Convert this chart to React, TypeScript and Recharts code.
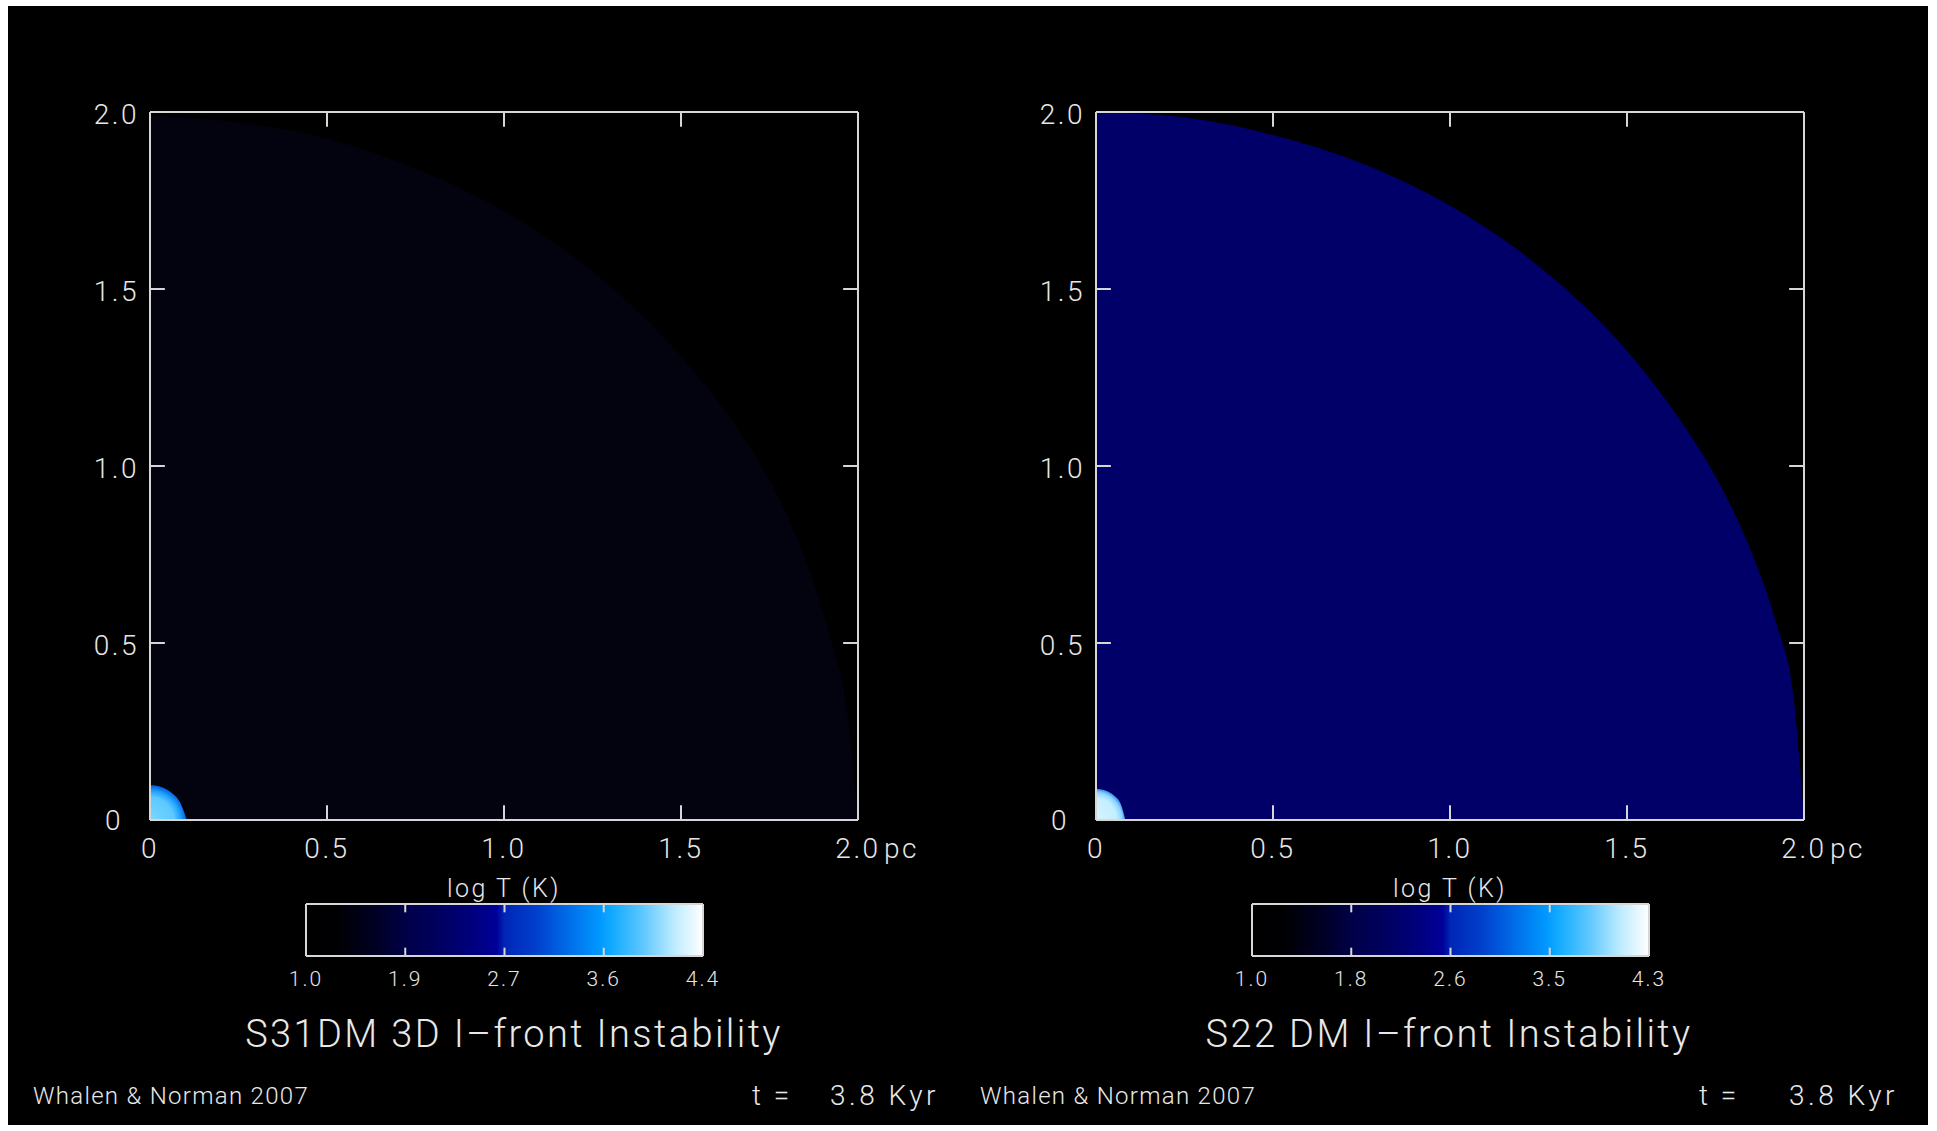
import { Area, AreaChart, ReferenceLine, XAxis, YAxis } from 'recharts';

// I-front panels: positions in pc, temperature colour scale in log T (K)
const axisTicks = [0, 0.5, 1, 1.5, 2];
const innerTicks = [0.5, 1, 1.5];

// outer boundary of the neutral shell, y (pc) at each x (pc)
const frontX = [0, 0.25, 0.5, 0.75, 1.0, 1.25, 1.5, 1.65, 1.75, 1.85, 1.92, 1.97, 2.0];
const frontLeftY = [1.99, 1.97, 1.925, 1.84, 1.72, 1.55, 1.31, 1.12, 0.96, 0.74, 0.52, 0.3, 0.0];
const frontRightY = [2.0, 1.985, 1.935, 1.855, 1.735, 1.565, 1.325, 1.13, 0.97, 0.76, 0.56, 0.35, 0.0];

// hot ionized core around the source
const coreLeftX = [0, 0.03, 0.06, 0.085, 0.104];
const coreLeftY = [0.099, 0.094, 0.078, 0.05, 0];
const coreRightX = [0, 0.03, 0.05, 0.07, 0.083];
const coreRightY = [0.088, 0.082, 0.07, 0.045, 0];

const cbTicksLeft = [1.0, 1.85, 2.7, 3.55, 4.4];
const cbLabelsLeft = ['1.0', '1.9', '2.7', '3.6', '4.4'];
const cbTicksRight = [1.0, 1.825, 2.65, 3.475, 4.3];
const cbLabelsRight = ['1.0', '1.8', '2.6', '3.5', '4.3'];

const titleLeft = 'S31DM 3D I\u2013front Instability';
const titleRight = 'S22 DM I\u2013front Instability';
const credit = 'Whalen & Norman 2007';
const timeLabel = '3.8 Kyr';

const FONT = 'Roboto, "DejaVu Sans", sans-serif';
const FRAME = '#d6d6d6';
const INK = '#e6e6e6';
const TL = 0.042;

const CB_STOPS: [number, string][] = [
  [0, '#000000'],
  [0.08, '#000004'],
  [0.18, '#000026'],
  [0.25, '#000048'],
  [0.33, '#00005e'],
  [0.42, '#00007e'],
  [0.48, '#000098'],
  [0.5, '#0026b6'],
  [0.58, '#0040cc'],
  [0.66, '#006ce8'],
  [0.74, '#0098ff'],
  [0.77, '#10aaff'],
  [0.85, '#60c8ff'],
  [0.93, '#c0ecff'],
  [1, '#ffffff'],
];

function buildRows(fx: number[], fy: number[], cx: number[], cy: number[]) {
  const rows: { x: number; front?: number; core?: number }[] = [];
  fx.forEach((x, i) => rows.push({ x, front: fy[i] }));
  cx.forEach((x, i) => {
    const hit = rows.find((r) => r.x === x);
    if (hit) hit.core = cy[i];
    else rows.push({ x, core: cy[i] });
  });
  return rows.sort((a, b) => a.x - b.x);
}

const tickText = { fill: INK, fontSize: 28, fontFamily: FONT, fontWeight: 300, letterSpacing: 2.5 };

function XTick(props: any) {
  const { x, y, payload } = props;
  const v = payload.value as number;
  const label = v === 0 ? '0' : v.toFixed(1);
  return (
    <g>
      <text x={x} y={y + 26} textAnchor="middle" dominantBaseline="central" {...tickText}>
        {label}
      </text>
      {v === 2 && (
        <text x={x + 26} y={y + 26} textAnchor="start" dominantBaseline="central" {...tickText}>
          pc
        </text>
      )}
    </g>
  );
}

function YTick(props: any) {
  const { x, y, payload } = props;
  const v = payload.value as number;
  if (v === 0) {
    return (
      <text x={x - 34} y={y} textAnchor="middle" dominantBaseline="central" {...tickText}>
        0
      </text>
    );
  }
  return (
    <text x={x - 9} y={y + 2} textAnchor="end" dominantBaseline="central" {...tickText}>
      {v.toFixed(1)}
    </text>
  );
}

interface PanelProps {
  id: string;
  left: number;
  rows: { x: number; front?: number; core?: number }[];
  shell: string;
  coreStops: [number, string][];
}

function Panel({ id, left, rows, shell, coreStops }: PanelProps) {
  return (
    <div style={{ position: 'absolute', left, top: 0 }}>
      <AreaChart width={960} height={880} data={rows} margin={{ top: 112, right: 102, bottom: 10, left: 80 }}>
        <defs>
          <radialGradient id={`core-${id}`} cx="0" cy="1" r="1">
            {coreStops.map(([o, c]) => (
              <stop key={o} offset={o} stopColor={c} />
            ))}
          </radialGradient>
        </defs>
        <XAxis
          type="number"
          dataKey="x"
          domain={[0, 2]}
          ticks={axisTicks}
          height={50}
          axisLine={false}
          tickLine={false}
          tickSize={0}
          tick={<XTick />}
          interval={0}
        />
        <YAxis type="number" domain={[0, 2]} ticks={axisTicks} width={70} axisLine={false} tickLine={false} tickSize={0} tick={<YTick />} interval={0} />
        <Area type="monotone" dataKey="front" stroke="none" fill={shell} fillOpacity={1} connectNulls isAnimationActive={false} />
        <Area type="monotone" dataKey="core" stroke="none" fill={`url(#core-${id})`} fillOpacity={1} connectNulls isAnimationActive={false} />
        <ReferenceLine x={0} stroke={FRAME} strokeWidth={2} />
        <ReferenceLine x={2} stroke={FRAME} strokeWidth={2} />
        <ReferenceLine y={0} stroke={FRAME} strokeWidth={2} />
        <ReferenceLine y={2} stroke={FRAME} strokeWidth={2} />
        {innerTicks.map((v) => [
          <ReferenceLine key={`b${v}`} segment={[{ x: v, y: 0 }, { x: v, y: TL }]} stroke={FRAME} strokeWidth={2} />,
          <ReferenceLine key={`t${v}`} segment={[{ x: v, y: 2 }, { x: v, y: 2 - TL }]} stroke={FRAME} strokeWidth={2} />,
          <ReferenceLine key={`l${v}`} segment={[{ x: 0, y: v }, { x: TL, y: v }]} stroke={FRAME} strokeWidth={2} />,
          <ReferenceLine key={`r${v}`} segment={[{ x: 2, y: v }, { x: 2 - TL, y: v }]} stroke={FRAME} strokeWidth={2} />,
        ])}
      </AreaChart>
    </div>
  );
}

interface ColorbarProps {
  id: string;
  left: number;
  ticks: number[];
  labels: string[];
}

function Colorbar({ id, left, ticks, labels }: ColorbarProps) {
  const lo = ticks[0];
  const hi = ticks[ticks.length - 1];
  const data = [
    { t: lo, v: 1 },
    { t: hi, v: 1 },
  ];
  const mid = ticks.slice(1, -1);
  const cbTick = (p: any) => (
    <text
      x={p.x}
      y={p.y + 21}
      textAnchor="middle"
      dominantBaseline="central"
      fill={INK}
      fontSize={21}
      fontFamily={FONT}
      fontWeight={300}
      letterSpacing={2}
    >
      {labels[p.index]}
    </text>
  );
  return (
    <div style={{ position: 'absolute', left: left - 40, top: 874 }}>
      <AreaChart width={477} height={122} data={data} margin={{ top: 30, right: 40, bottom: 0, left: 40 }}>
        <defs>
          <linearGradient id={`cb-${id}`} x1="0" y1="0" x2="1" y2="0">
            {CB_STOPS.map(([o, c]) => (
              <stop key={o} offset={o} stopColor={c} />
            ))}
          </linearGradient>
        </defs>
        <XAxis type="number" dataKey="t" domain={[lo, hi]} ticks={ticks} height={40} axisLine={false} tickLine={false} tickSize={0} tick={cbTick} interval={0} />
        <YAxis type="number" domain={[0, 1]} hide />
        <Area type="linear" dataKey="v" stroke="none" fill={`url(#cb-${id})`} fillOpacity={1} isAnimationActive={false} />
        <ReferenceLine x={lo} stroke={FRAME} strokeWidth={2} />
        <ReferenceLine x={hi} stroke={FRAME} strokeWidth={2} />
        <ReferenceLine y={0} stroke={FRAME} strokeWidth={2} />
        <ReferenceLine y={1} stroke={FRAME} strokeWidth={2} />
        {mid.map((v) => [
          <ReferenceLine key={`b${v}`} segment={[{ x: v, y: 0 }, { x: v, y: 0.16 }]} stroke={FRAME} strokeWidth={2} />,
          <ReferenceLine key={`t${v}`} segment={[{ x: v, y: 1 }, { x: v, y: 0.84 }]} stroke={FRAME} strokeWidth={2} />,
        ])}
      </AreaChart>
    </div>
  );
}

const textStyle = {
  position: 'absolute' as const,
  color: '#e8e8e8',
  fontFamily: FONT,
  fontWeight: 300,
  whiteSpace: 'pre' as const,
  lineHeight: 1,
};

export default function App() {
  const rowsLeft = buildRows(frontX, frontLeftY, coreLeftX, coreLeftY);
  const rowsRight = buildRows(frontX, frontRightY, coreRightX, coreRightY);
  return (
    <div style={{ position: 'absolute', left: 0, top: 0, width: 1937, height: 1131, background: '#ffffff' }}>
      <div style={{ position: 'absolute', left: 8, top: 6, width: 1920, height: 1119, background: '#000000' }} />
      <div style={{ position: 'absolute', left: 0, top: 0, width: 1937, height: 1131 }}>
        <Panel
          id="s31"
          left={0}
          rows={rowsLeft}
          shell="#03030f"
          coreStops={[
            [0, '#7ad8ff'],
            [0.65, '#5cc8ff'],
            [0.82, '#22a4ff'],
            [1, '#0058dc'],
          ]}
        />
        <Panel
          id="s22"
          left={946}
          rows={rowsRight}
          shell="#000068"
          coreStops={[
            [0, '#d8f4ff'],
            [0.7, '#c4eeff'],
            [0.88, '#8cd6ff'],
            [1, '#3a8ce8'],
          ]}
        />
        <Colorbar id="l" left={306} ticks={cbTicksLeft} labels={cbLabelsLeft} />
        <Colorbar id="r" left={1252} ticks={cbTicksRight} labels={cbLabelsRight} />

        <div style={{ ...textStyle, left: 384, top: 876, width: 240, textAlign: 'center', fontSize: 25, letterSpacing: 2.5 }}>log T (K)</div>
        <div style={{ ...textStyle, left: 1330, top: 876, width: 240, textAlign: 'center', fontSize: 25, letterSpacing: 2.5 }}>log T (K)</div>

        <div style={{ ...textStyle, left: 164, top: 1015, width: 700, textAlign: 'center', fontSize: 38, letterSpacing: 2.4 }}>{titleLeft}</div>
        <div style={{ ...textStyle, left: 1099, top: 1015, width: 700, textAlign: 'center', fontSize: 38, letterSpacing: 2.4 }}>{titleRight}</div>

        <div style={{ ...textStyle, left: 33, top: 1084, fontSize: 24, letterSpacing: 1.3 }}>{credit}</div>
        <div style={{ ...textStyle, left: 980, top: 1084, fontSize: 24, letterSpacing: 1.3 }}>{credit}</div>

        <div style={{ ...textStyle, left: 752, top: 1082, fontSize: 28, letterSpacing: 3 }}>t =</div>
        <div style={{ ...textStyle, left: 830, top: 1082, fontSize: 28, letterSpacing: 3.5 }}>{timeLabel}</div>
        <div style={{ ...textStyle, left: 1699, top: 1082, fontSize: 28, letterSpacing: 3 }}>t =</div>
        <div style={{ ...textStyle, left: 1789, top: 1082, fontSize: 28, letterSpacing: 3.5 }}>{timeLabel}</div>
      </div>
    </div>
  );
}
